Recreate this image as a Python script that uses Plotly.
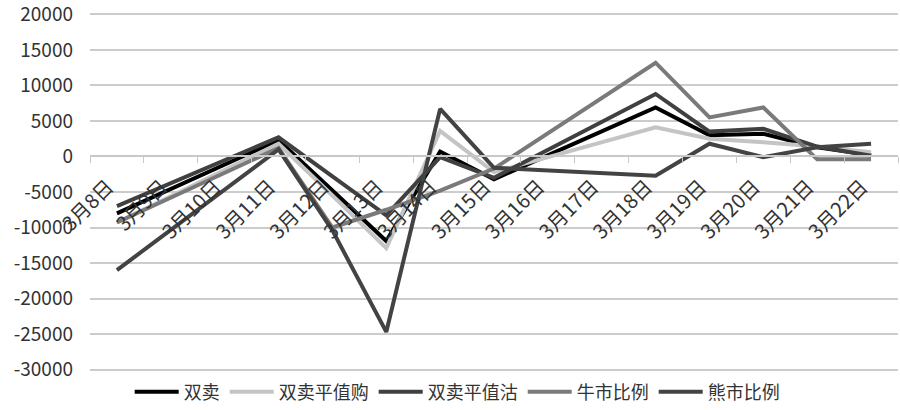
import plotly.graph_objects as go

dates = ["3月8日", "3月9日", "3月10日", "3月11日", "3月12日", "3月13日", "3月14日",
         "3月15日", "3月16日", "3月17日", "3月18日", "3月19日", "3月20日", "3月21日", "3月22日"]

# None = non-trading day (line bridges the gap)
shuangmai =       [-8000, None, None, 2300, -4800, -11900, 700, -3200, None, None, 6900, 3000, 3200, 1300, 200]
shuangmai_gou =   [-9300, None, None, 1800, -5500, -12900, 3600, -2200, None, None, 4100, 2500, 2000, 1400, 600]
shuangmai_gu =    [-7000, None, None, 2700, -2800, -8300, -100, -3000, None, None, 8800, 3500, 3900, 1400, 100]
niushi_bili =     [-9300, None, None, 1200, -10000, -7500, -4800, -1700, None, None, 13200, 5500, 6900, -400, -400]
xiongshi_bili =   [-16000, None, None, 1000, -10400, -24700, 6700, -1600, None, None, -2700, 1800, -100, 1300, 1800]

series_names = ["双卖", "双卖平值购", "双卖平值沽", "牛市比例", "熊市比例"]
series_values = [shuangmai, shuangmai_gou, shuangmai_gu, niushi_bili, xiongshi_bili]
series_colors = ["#000000", "#c4c4c4", "#404040", "#7a7a7a", "#434343"]

y_tick_vals = [20000, 15000, 10000, 5000, 0, -5000, -10000, -15000, -20000, -25000, -30000]
y_tick_text = [str(v) for v in y_tick_vals]

FONT = "Noto Sans CJK SC"

y_lo, y_hi = -30200, 20200
zero_pos = (0 - y_lo) / (y_hi - y_lo)

fig = go.Figure()
for name, vals, col in zip(series_names, series_values, series_colors):
    fig.add_trace(go.Scatter(
        x=dates, y=vals, name=name, mode="lines", connectgaps=True,
        line=dict(color=col, width=4),
    ))

fig.update_layout(
    width=900, height=410,
    margin=dict(l=90, r=2, t=13, b=39, autoexpand=False),
    paper_bgcolor="white", plot_bgcolor="white",
    font=dict(family=FONT, color="#404040", size=18),
    showlegend=True,
    legend=dict(
        orientation="h", xref="container", yref="container",
        x=0.508, xanchor="center", y=0.044, yanchor="middle",
        font=dict(size=18, color="#333333"), itemwidth=44,
        tracegroupgap=0, itemclick=False,
    ),
    xaxis=dict(
        type="category", anchor="free", position=zero_pos,
        range=[-0.5, len(dates) - 0.5], automargin=False,
        showline=True, linecolor="#c8c8c8", linewidth=1.5,
        ticks="outside", ticklen=6, tickcolor="#c8c8c8", tickson="boundaries",
        tickangle=-45, showgrid=False, zeroline=False,
        ticklabelstandoff=10, ticklabelshift=-9,
        tickfont=dict(family=FONT, size=20, color="#333333"),
    ),
    yaxis=dict(
        range=[y_lo, y_hi], tickvals=y_tick_vals, ticktext=y_tick_text,
        automargin=False, ticklabeloverflow="allow",
        showgrid=True, gridcolor="#cccccc", gridwidth=1.5,
        zeroline=False, showline=False, ticks="",
        ticklabelstandoff=16,
        tickfont=dict(family=FONT, size=19, color="#333333"),
    ),
)

fig.write_html("out.html", config={"displayModeBar": False},
               post_script="document.body.style.margin='0px';")
